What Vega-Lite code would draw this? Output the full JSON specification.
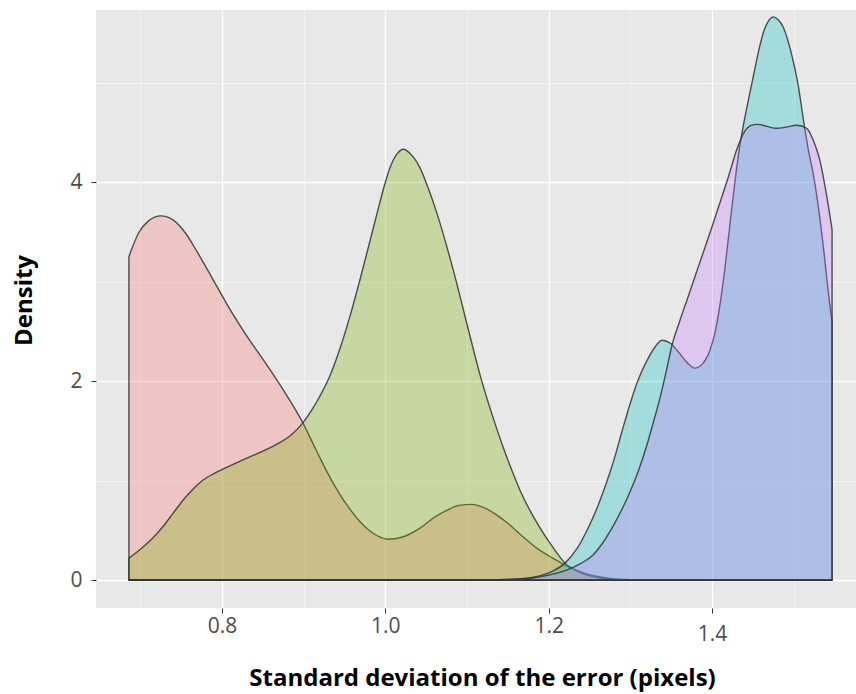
{
  "$schema": "https://vega.github.io/schema/vega-lite/v6.json",
  "width": 760,
  "height": 598,
  "autosize": {"type": "none"},
  "padding": {"left": 96, "top": 10, "right": 0, "bottom": 86},
  "background": "white",
  "config": {"view": {"fill": "#E8E8E8", "stroke": null}, "font": "Open Sans"},
  "datasets": {
    "dens": [
      {"group": "Group 1", "sd": 0.686, "density": 3.25},
      {"group": "Group 1", "sd": 0.698, "density": 3.49},
      {"group": "Group 1", "sd": 0.71, "density": 3.61},
      {"group": "Group 1", "sd": 0.725, "density": 3.66},
      {"group": "Group 1", "sd": 0.74, "density": 3.62},
      {"group": "Group 1", "sd": 0.755, "density": 3.49},
      {"group": "Group 1", "sd": 0.768, "density": 3.32},
      {"group": "Group 1", "sd": 0.789, "density": 3.02},
      {"group": "Group 1", "sd": 0.809, "density": 2.73},
      {"group": "Group 1", "sd": 0.829, "density": 2.47},
      {"group": "Group 1", "sd": 0.85, "density": 2.22},
      {"group": "Group 1", "sd": 0.875, "density": 1.91},
      {"group": "Group 1", "sd": 0.899, "density": 1.58},
      {"group": "Group 1", "sd": 0.915, "density": 1.31},
      {"group": "Group 1", "sd": 0.931, "density": 1.05},
      {"group": "Group 1", "sd": 0.955, "density": 0.73},
      {"group": "Group 1", "sd": 0.98, "density": 0.5},
      {"group": "Group 1", "sd": 1.004, "density": 0.41},
      {"group": "Group 1", "sd": 1.02, "density": 0.43},
      {"group": "Group 1", "sd": 1.042, "density": 0.52},
      {"group": "Group 1", "sd": 1.06, "density": 0.63},
      {"group": "Group 1", "sd": 1.075, "density": 0.7},
      {"group": "Group 1", "sd": 1.09, "density": 0.75},
      {"group": "Group 1", "sd": 1.106, "density": 0.76},
      {"group": "Group 1", "sd": 1.12, "density": 0.73},
      {"group": "Group 1", "sd": 1.137, "density": 0.65},
      {"group": "Group 1", "sd": 1.15, "density": 0.57},
      {"group": "Group 1", "sd": 1.165, "density": 0.46},
      {"group": "Group 1", "sd": 1.189, "density": 0.3},
      {"group": "Group 1", "sd": 1.205, "density": 0.22},
      {"group": "Group 1", "sd": 1.22, "density": 0.15},
      {"group": "Group 1", "sd": 1.24, "density": 0.08},
      {"group": "Group 1", "sd": 1.26, "density": 0.035},
      {"group": "Group 1", "sd": 1.28, "density": 0.012},
      {"group": "Group 1", "sd": 1.3, "density": 0.004},
      {"group": "Group 1", "sd": 1.33, "density": 0},
      {"group": "Group 1", "sd": 1.547, "density": 0},

      {"group": "Group 2", "sd": 0.686, "density": 0.22},
      {"group": "Group 2", "sd": 0.7, "density": 0.31},
      {"group": "Group 2", "sd": 0.715, "density": 0.42},
      {"group": "Group 2", "sd": 0.728, "density": 0.54},
      {"group": "Group 2", "sd": 0.74, "density": 0.67},
      {"group": "Group 2", "sd": 0.752, "density": 0.8},
      {"group": "Group 2", "sd": 0.764, "density": 0.91},
      {"group": "Group 2", "sd": 0.776, "density": 1.0},
      {"group": "Group 2", "sd": 0.79, "density": 1.07},
      {"group": "Group 2", "sd": 0.805, "density": 1.13},
      {"group": "Group 2", "sd": 0.829, "density": 1.22},
      {"group": "Group 2", "sd": 0.866, "density": 1.36},
      {"group": "Group 2", "sd": 0.885, "density": 1.46},
      {"group": "Group 2", "sd": 0.899, "density": 1.58},
      {"group": "Group 2", "sd": 0.91, "density": 1.71},
      {"group": "Group 2", "sd": 0.92, "density": 1.85},
      {"group": "Group 2", "sd": 0.931, "density": 2.03},
      {"group": "Group 2", "sd": 0.945, "density": 2.34},
      {"group": "Group 2", "sd": 0.957, "density": 2.66},
      {"group": "Group 2", "sd": 0.969, "density": 3.02},
      {"group": "Group 2", "sd": 0.98, "density": 3.37},
      {"group": "Group 2", "sd": 0.99, "density": 3.69},
      {"group": "Group 2", "sd": 0.998, "density": 3.94},
      {"group": "Group 2", "sd": 1.006, "density": 4.15},
      {"group": "Group 2", "sd": 1.014, "density": 4.28},
      {"group": "Group 2", "sd": 1.022, "density": 4.33},
      {"group": "Group 2", "sd": 1.03, "density": 4.29},
      {"group": "Group 2", "sd": 1.042, "density": 4.15},
      {"group": "Group 2", "sd": 1.052, "density": 3.95},
      {"group": "Group 2", "sd": 1.063, "density": 3.69},
      {"group": "Group 2", "sd": 1.083, "density": 3.12},
      {"group": "Group 2", "sd": 1.104, "density": 2.44},
      {"group": "Group 2", "sd": 1.116, "density": 2.06},
      {"group": "Group 2", "sd": 1.13, "density": 1.68},
      {"group": "Group 2", "sd": 1.144, "density": 1.34},
      {"group": "Group 2", "sd": 1.155, "density": 1.1},
      {"group": "Group 2", "sd": 1.165, "density": 0.9},
      {"group": "Group 2", "sd": 1.177, "density": 0.7},
      {"group": "Group 2", "sd": 1.189, "density": 0.53},
      {"group": "Group 2", "sd": 1.205, "density": 0.33},
      {"group": "Group 2", "sd": 1.22, "density": 0.17},
      {"group": "Group 2", "sd": 1.24, "density": 0.07},
      {"group": "Group 2", "sd": 1.26, "density": 0.025},
      {"group": "Group 2", "sd": 1.28, "density": 0.008},
      {"group": "Group 2", "sd": 1.3, "density": 0},
      {"group": "Group 2", "sd": 1.547, "density": 0},

      {"group": "Group 3", "sd": 0.686, "density": 0},
      {"group": "Group 3", "sd": 1.1, "density": 0},
      {"group": "Group 3", "sd": 1.15, "density": 0.005},
      {"group": "Group 3", "sd": 1.17, "density": 0.015},
      {"group": "Group 3", "sd": 1.19, "density": 0.045},
      {"group": "Group 3", "sd": 1.205, "density": 0.09},
      {"group": "Group 3", "sd": 1.22, "density": 0.17},
      {"group": "Group 3", "sd": 1.235, "density": 0.32},
      {"group": "Group 3", "sd": 1.247, "density": 0.5},
      {"group": "Group 3", "sd": 1.26, "density": 0.74},
      {"group": "Group 3", "sd": 1.27, "density": 0.96},
      {"group": "Group 3", "sd": 1.28, "density": 1.21},
      {"group": "Group 3", "sd": 1.29, "density": 1.5},
      {"group": "Group 3", "sd": 1.3, "density": 1.78},
      {"group": "Group 3", "sd": 1.31, "density": 2.02},
      {"group": "Group 3", "sd": 1.32, "density": 2.2},
      {"group": "Group 3", "sd": 1.33, "density": 2.34},
      {"group": "Group 3", "sd": 1.339, "density": 2.41},
      {"group": "Group 3", "sd": 1.349, "density": 2.38},
      {"group": "Group 3", "sd": 1.36, "density": 2.28},
      {"group": "Group 3", "sd": 1.37, "density": 2.18},
      {"group": "Group 3", "sd": 1.379, "density": 2.13},
      {"group": "Group 3", "sd": 1.388, "density": 2.17},
      {"group": "Group 3", "sd": 1.397, "density": 2.3},
      {"group": "Group 3", "sd": 1.404, "density": 2.5},
      {"group": "Group 3", "sd": 1.41, "density": 2.78},
      {"group": "Group 3", "sd": 1.416, "density": 3.15},
      {"group": "Group 3", "sd": 1.422, "density": 3.58},
      {"group": "Group 3", "sd": 1.428, "density": 4.0},
      {"group": "Group 3", "sd": 1.434, "density": 4.36},
      {"group": "Group 3", "sd": 1.44, "density": 4.64},
      {"group": "Group 3", "sd": 1.446, "density": 4.88},
      {"group": "Group 3", "sd": 1.452, "density": 5.12},
      {"group": "Group 3", "sd": 1.458, "density": 5.35},
      {"group": "Group 3", "sd": 1.464, "density": 5.53},
      {"group": "Group 3", "sd": 1.47, "density": 5.63},
      {"group": "Group 3", "sd": 1.475, "density": 5.66},
      {"group": "Group 3", "sd": 1.481, "density": 5.63},
      {"group": "Group 3", "sd": 1.487, "density": 5.56},
      {"group": "Group 3", "sd": 1.493, "density": 5.42},
      {"group": "Group 3", "sd": 1.499, "density": 5.23},
      {"group": "Group 3", "sd": 1.506, "density": 4.95},
      {"group": "Group 3", "sd": 1.512, "density": 4.62},
      {"group": "Group 3", "sd": 1.518, "density": 4.32},
      {"group": "Group 3", "sd": 1.524, "density": 4.08},
      {"group": "Group 3", "sd": 1.529, "density": 3.82},
      {"group": "Group 3", "sd": 1.537, "density": 3.3},
      {"group": "Group 3", "sd": 1.544, "density": 2.78},
      {"group": "Group 3", "sd": 1.547, "density": 2.6},

      {"group": "Group 4", "sd": 0.686, "density": 0},
      {"group": "Group 4", "sd": 1.1, "density": 0},
      {"group": "Group 4", "sd": 1.15, "density": 0.005},
      {"group": "Group 4", "sd": 1.18, "density": 0.02},
      {"group": "Group 4", "sd": 1.2, "density": 0.05},
      {"group": "Group 4", "sd": 1.222, "density": 0.1},
      {"group": "Group 4", "sd": 1.24, "density": 0.17},
      {"group": "Group 4", "sd": 1.254, "density": 0.25},
      {"group": "Group 4", "sd": 1.265, "density": 0.36},
      {"group": "Group 4", "sd": 1.28, "density": 0.56},
      {"group": "Group 4", "sd": 1.296, "density": 0.82},
      {"group": "Group 4", "sd": 1.31, "density": 1.1},
      {"group": "Group 4", "sd": 1.32, "density": 1.35},
      {"group": "Group 4", "sd": 1.328, "density": 1.58},
      {"group": "Group 4", "sd": 1.336, "density": 1.82},
      {"group": "Group 4", "sd": 1.344, "density": 2.1},
      {"group": "Group 4", "sd": 1.351, "density": 2.36},
      {"group": "Group 4", "sd": 1.36, "density": 2.59},
      {"group": "Group 4", "sd": 1.37, "density": 2.83},
      {"group": "Group 4", "sd": 1.38, "density": 3.07},
      {"group": "Group 4", "sd": 1.39, "density": 3.31},
      {"group": "Group 4", "sd": 1.4, "density": 3.55},
      {"group": "Group 4", "sd": 1.41, "density": 3.8},
      {"group": "Group 4", "sd": 1.42, "density": 4.05},
      {"group": "Group 4", "sd": 1.43, "density": 4.32},
      {"group": "Group 4", "sd": 1.44, "density": 4.51},
      {"group": "Group 4", "sd": 1.448, "density": 4.57},
      {"group": "Group 4", "sd": 1.456, "density": 4.58},
      {"group": "Group 4", "sd": 1.467, "density": 4.56},
      {"group": "Group 4", "sd": 1.479, "density": 4.54},
      {"group": "Group 4", "sd": 1.49, "density": 4.55},
      {"group": "Group 4", "sd": 1.504, "density": 4.57},
      {"group": "Group 4", "sd": 1.516, "density": 4.54},
      {"group": "Group 4", "sd": 1.524, "density": 4.42},
      {"group": "Group 4", "sd": 1.532, "density": 4.22},
      {"group": "Group 4", "sd": 1.54, "density": 3.88},
      {"group": "Group 4", "sd": 1.547, "density": 3.52}
    ]
  },
  "data": {"name": "dens"},
  "mark": {
    "type": "area",
    "interpolate": "monotone",
    "fillOpacity": 0.3,
    "stroke": "#333333",
    "strokeWidth": 1.4,
    "strokeOpacity": 0.85,
    "clip": true
  },
  "encoding": {
    "x": {
      "field": "sd",
      "type": "quantitative",
      "scale": {"domain": [0.6457, 1.5763], "nice": false, "zero": false},
      "axis": {
        "values": [0.7, 0.8, 0.9, 1.0, 1.1, 1.2, 1.3, 1.4, 1.5],
        "labelExpr": "round(datum.value*10) % 2 == 0 ? format(datum.value, '.1f') : ''",
        "labelOverlap": false,
        "labelFlush": false,
        "grid": true,
        "gridColor": "#FFFFFF",
        "gridWidth": {"condition": {"test": "round(datum.value*10) % 2 == 0", "value": 1.3}, "value": 0.5},
        "domain": false,
        "tickColor": {"condition": {"test": "round(datum.value*10) % 2 == 0", "value": "#333333"}, "value": "transparent"},
        "tickSize": 5,
        "tickWidth": 1,
        "labelFont": "Open Sans",
        "labelFontSize": 21,
        "labelColor": "#4D4D4D",
        "labelPadding": {"condition": {"test": "datum.value > 1.35", "value": 10}, "value": 2},
        "title": "Standard deviation of the error (pixels)",
        "titleFont": "Open Sans",
        "titleFontSize": 24,
        "titleFontWeight": "bold",
        "titleColor": "#000000",
        "titleX": 386,
        "titleY": 77,
        "titleAlign": "center",
        "titleBaseline": "alphabetic"
      }
    },
    "y": {
      "field": "density",
      "type": "quantitative",
      "stack": null,
      "scale": {"domain": [-0.281, 5.729], "nice": false, "zero": false},
      "axis": {
        "values": [0, 1, 2, 3, 4, 5],
        "labelExpr": "datum.value % 2 == 0 ? datum.label : ''",
        "labelOverlap": false,
        "labelFlush": false,
        "grid": true,
        "gridColor": "#FFFFFF",
        "gridWidth": {"condition": {"test": "datum.value % 2 == 0", "value": 1.3}, "value": 0.5},
        "domain": false,
        "tickColor": {"condition": {"test": "datum.value % 2 == 0", "value": "#333333"}, "value": "transparent"},
        "tickSize": 5,
        "tickWidth": 1,
        "labelFont": "Open Sans",
        "labelFontSize": 21,
        "labelColor": "#4D4D4D",
        "labelPadding": 9,
        "title": "Density",
        "titleFont": "Open Sans",
        "titleFontSize": 24,
        "titleFontWeight": "bold",
        "titleColor": "#000000",
        "titleAngle": -90,
        "titleX": -65,
        "titleY": 290,
        "titleAlign": "center",
        "titleBaseline": "alphabetic"
      }
    },
    "y2": {"datum": 0},
    "color": {
      "field": "group",
      "type": "nominal",
      "scale": {"domain": ["Group 1", "Group 2", "Group 3", "Group 4"], "range": ["#F8766D", "#7CAE00", "#00BFC4", "#C77CFF"]},
      "legend": null
    }
  }
}
